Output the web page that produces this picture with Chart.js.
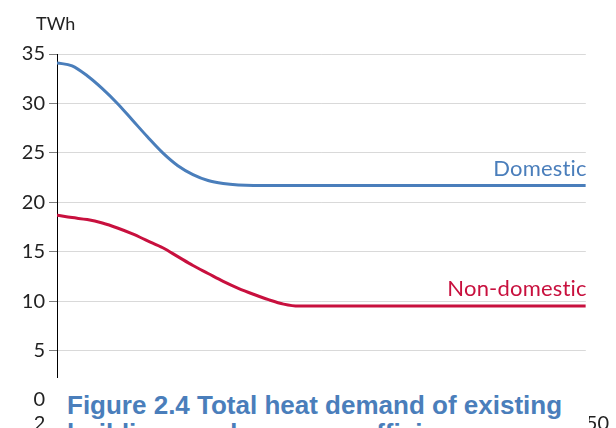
<!DOCTYPE html>
<html>
<head>
<meta charset="utf-8">
<script src="https://cdn.jsdelivr.net/npm/chart.js@4.4.1/dist/chart.umd.min.js"></script>
<style>
  html, body { margin: 0; padding: 0; background: #fff; }
  #wrap { position: relative; width: 616px; height: 428px; overflow: hidden; }
  #caption {
    position: absolute; left: 46px; top: 378px; width: 543px; height: 60px;
    background: #fff; color: #4a7ebb;
    font-family: "Liberation Sans", Arial, sans-serif; font-weight: bold;
    font-size: 26px; line-height: 28px; padding-left: 21px; box-sizing: border-box;
    padding-top: 13px; white-space: nowrap;
  }
</style>
</head>
<body>
<div id="wrap">
  <canvas id="heatChart" width="616" height="428"></canvas>
  <div id="caption">Figure 2.4 Total heat demand of existing<br>buildings under energy efficiency</div>
</div>
<script>
const years = [];
for (let y = 2015; y <= 2050; y++) years.push(y);

const domestic = [34.1, 33.8, 32.8, 31.5, 30.0, 28.3, 26.6, 25.0, 23.7, 22.8, 22.2, 21.9, 21.75,
  21.7, 21.7, 21.7, 21.7, 21.7, 21.7, 21.7, 21.7, 21.7, 21.7, 21.7, 21.7, 21.7,
  21.7, 21.7, 21.7, 21.7, 21.7, 21.7, 21.7, 21.7, 21.7, 21.7];
const nonDomestic = [18.7, 18.45, 18.25, 17.9, 17.4, 16.8, 16.1, 15.4, 14.5, 13.6, 12.8, 12.0,
  11.3, 10.7, 10.15, 9.7, 9.5, 9.5, 9.5, 9.5, 9.5, 9.5, 9.5, 9.5, 9.5, 9.5,
  9.5, 9.5, 9.5, 9.5, 9.5, 9.5, 9.5, 9.5, 9.5, 9.5];
const yTicks = [0, 5, 10, 15, 20, 25, 30, 35];

const blue = "#4a7ebb";
const red = "#c8103e";
const tickFont = { family: "Lato, 'Open Sans', sans-serif", size: 20 };

// draws "TWh" and the end-of-line series labels
const labelPlugin = {
  id: "labels",
  afterDatasetsDraw(chart) {
    const { ctx, scales } = chart;
    ctx.save();
    ctx.font = "18px Lato, 'Open Sans', sans-serif";
    ctx.fillStyle = "#222";
    ctx.textAlign = "left";
    ctx.textBaseline = "alphabetic";
    ctx.fillText("TWh", 36, 30);

    ctx.font = "22px Lato, 'Open Sans', sans-serif";
    ctx.letterSpacing = "0.2px"; // keeps "ti" from turning into a ligature
    ctx.textAlign = "right";
    const xEnd = scales.x.getPixelForValue(years[years.length - 1]) + 1;
    ctx.fillStyle = blue;
    ctx.fillText("Domestic", xEnd, scales.y.getPixelForValue(domestic[domestic.length - 1]) - 9);
    ctx.fillStyle = red;
    ctx.fillText("Non-domestic", xEnd, scales.y.getPixelForValue(nonDomestic[nonDomestic.length - 1]) - 10);
    ctx.restore();
  },
};

new Chart(document.getElementById("heatChart"), {
  type: "line",
  data: {
    datasets: [
      {
        label: "Domestic",
        data: years.map((x, i) => ({ x, y: domestic[i] })),
        borderColor: blue,
        borderWidth: 3,
        pointRadius: 0,
        cubicInterpolationMode: "monotone",
      },
      {
        label: "Non-domestic",
        data: years.map((x, i) => ({ x, y: nonDomestic[i] })),
        borderColor: red,
        borderWidth: 3,
        pointRadius: 0,
        cubicInterpolationMode: "monotone",
      },
    ],
  },
  options: {
    responsive: false,
    animation: false,
    layout: { padding: { top: 54, right: 26, left: 0, bottom: 0 } },
    plugins: { legend: { display: false }, tooltip: { enabled: false } },
    scales: {
      x: {
        type: "linear",
        min: 2015,
        max: 2050,
        afterFit: (s) => { s.height = 28; },
        afterBuildTicks: (s) => { s.ticks = years.filter((y) => y % 5 === 0).map((v) => ({ value: v })); },
        grid: { display: false, drawTicks: true, tickLength: 5 },
        border: { display: true, color: "#000" },
        ticks: { font: tickFont, color: "#222", padding: 7, maxRotation: 0, callback: (v) => String(v) },
      },
      y: {
        min: 0,
        max: 35,
        afterFit: (s) => { s.width = 57; },
        afterBuildTicks: (s) => { s.ticks = yTicks.map((v) => ({ value: v })); },
        grid: { color: "#d9d9d9", lineWidth: 1, tickLength: 8, tickColor: "#7f7f7f" },
        border: { display: true, color: "#000", width: 1 },
        ticks: { font: tickFont, color: "#222", padding: 4 },
      },
    },
  },
  plugins: [labelPlugin],
});
</script>
</body>
</html>
